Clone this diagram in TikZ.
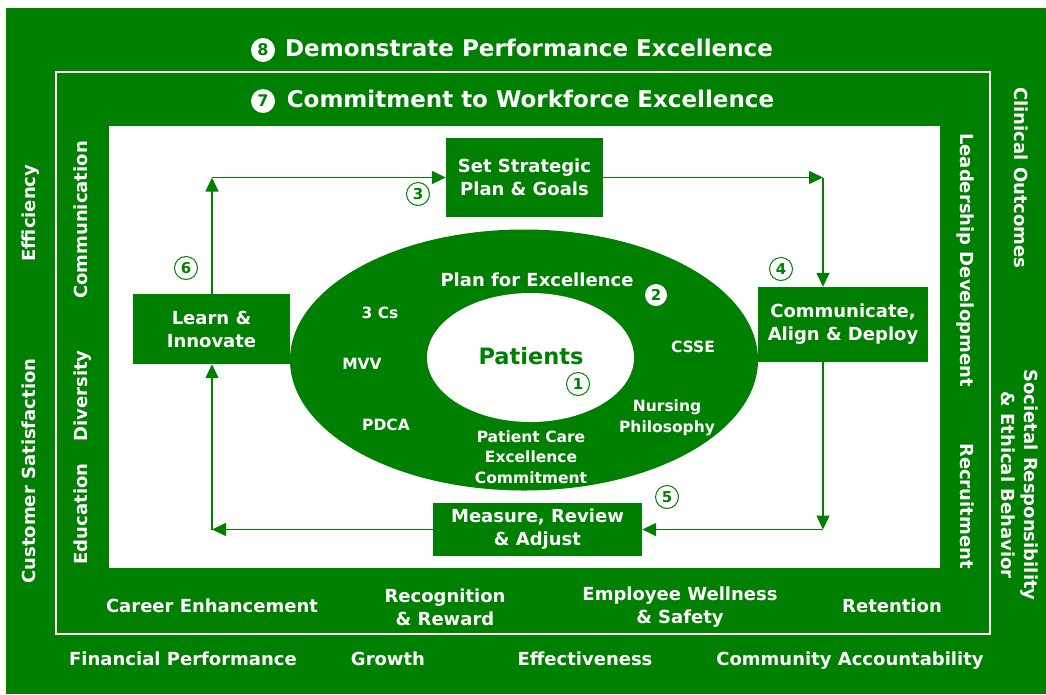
\documentclass[tikz,border=0pt]{standalone}
\usepackage{fontspec}
\setmainfont{DejaVu Sans}
\usetikzlibrary{shapes.geometric,arrows.meta}
\definecolor{pgreen}{RGB}{0,128,0}
\begin{document}
\begin{tikzpicture}[x=1pt,y=-1pt,
  lbl/.style={text=white, font=\bfseries\fontsize{18}{23}\selectfont, inner sep=0, align=center},
  one/.style={text height=13.5pt, text depth=3.5pt},
  ttl/.style={text=white, font=\bfseries\fontsize{23}{28}\selectfont, inner sep=0, text height=17pt, text depth=4.5pt},
  sml/.style={text=white, font=\bfseries\fontsize{15.5}{20.5}\selectfont, inner sep=0, align=center},
  box/.style={fill=pgreen, text=white, font=\bfseries\fontsize{18}{23}\selectfont, inner sep=0, align=center},
  numo/.style={circle, draw=pgreen, line width=1pt, fill=white, text=pgreen, font=\bfseries\fontsize{15}{15}\selectfont, minimum size=23pt, inner sep=0},
  numf/.style={circle, fill=white, text=pgreen, font=\bfseries\fontsize{16}{16}\selectfont, minimum size=24pt, inner sep=0},
  arr/.style={draw=pgreen, line width=1.5pt, -{Triangle[length=14pt,width=13pt]}}
]
\useasboundingbox (0,0) rectangle (1046,694);
\fill[white] (0,0) rectangle (1046,694);
\fill[pgreen] (6,8) rectangle (1046,694);
\draw[white, line width=1.5pt] (56,72) rectangle (990,634);
\fill[white] (109,126) rectangle (940,568);

% titles
\node[numf] (n8) at (263,50) {8};
\node[ttl] (t8) at (529,50) {Demonstrate Performance Excellence};
\node[numf] (n7) at (263,101) {7};
\node[ttl] (t7) at (530.5,101) {Commitment to Workforce Excellence};

% left outer / inner
\node[lbl, one, rotate=90] (eff) at (30,213) {Efficiency};
\node[lbl, one, rotate=90] (cus) at (30,471) {Customer Satisfaction};
\node[lbl, one, rotate=90] (com) at (82,220) {Communication};
\node[lbl, one, rotate=90] (div) at (82,396) {Diversity};
\node[lbl, one, rotate=90] (edu) at (82,514) {Education};

% right inner / outer
\node[lbl, one, rotate=-90] (lea) at (965,260) {Leadership Development};
\node[lbl, one, rotate=-90] (rec) at (965,506) {Recruitment};
\node[lbl, one, rotate=-90] (cli) at (1019,178) {Clinical Outcomes};
\node[lbl, rotate=-90] (soc) at (1020,485) {Societal Responsibility\\\& Ethical Behavior};

% bottom inner
\node[lbl, one] (car) at (212,607) {Career Enhancement};
\node[lbl] (rew) at (445,607) {Recognition\\\& Reward};
\node[lbl] (wel) at (680,607) {Employee Wellness\\\& Safety};
\node[lbl, one] (ret) at (892,607) {Retention};

% bottom outer
\node[lbl, one] (fin) at (183,660) {Financial Performance};
\node[lbl, one] (gro) at (388,660) {Growth};
\node[lbl, one] (efe) at (585,660) {Effectiveness};
\node[lbl, one] (cac) at (850,660) {Community Accountability};

% ellipses
\node[ellipse, fill=pgreen, minimum width=468pt, minimum height=261pt, inner sep=0] (oute) at (524,360) {};
\node[ellipse, fill=white, minimum width=207pt, minimum height=129pt, inner sep=0] (inne) at (530.5,357.5) {};

\node[lbl, one] (pfe) at (537,281) {Plan for Excellence};
\node[numf, minimum size=22pt, font=\bfseries\fontsize{15}{15}\selectfont] (n2) at (656,295) {2};
\node[sml] (cs) at (380,313) {3 Cs};
\node[sml] (mvv) at (362,364) {MVV};
\node[sml] (pdca) at (386,425) {PDCA};
\node[sml] (csse) at (693,347) {CSSE};
\node[sml] (nur) at (667,418) {Nursing\\Philosophy};
\node[sml] (pce) at (531,457) {Patient Care\\Excellence\\Commitment};
\node[text=pgreen, font=\bfseries\fontsize{22.5}{27}\selectfont, inner sep=0] (pat) at (531,356) {Patients};
\node[numo] (n1) at (578,384) {1};

% boxes
\node[box, minimum width=157pt, minimum height=79pt] (set) at (524.5,177.5) {Set Strategic\\Plan \& Goals};
\node[box, minimum width=157pt, minimum height=70pt] (learn) at (211.5,329) {Learn \&\\Innovate};
\node[box, minimum width=170pt, minimum height=75pt] (comm) at (843,324.5) {Communicate,\\Align \& Deploy};
\node[box, minimum width=209pt, minimum height=53pt] (meas) at (537.5,529.5) {Measure, Review\\\& Adjust};

% corners
\coordinate (c1) at (212,177.5);
\coordinate (c2) at (823,177.5);
\coordinate (c3) at (823,529.5);
\coordinate (c4) at (212,529.5);

% connectors
\draw[arr] (learn.north -| c1) -- (c1);
\draw[arr] (c1) -- (set.west);
\draw[arr] (set.east) -- (c2);
\draw[arr] (c2) -- (c2 |- comm.north);
\draw[arr] (c2 |- comm.south) -- (c3);
\draw[arr] (c3) -- (meas.east);
\draw[arr] (meas.west) -- (c4);
\draw[arr] (c4) -- (c4 |- learn.south);

% step numbers
\node[numo] (n3) at (418,194) {3};
\node[numo] (n4) at (781,269) {4};
\node[numo] (n5) at (667,497) {5};
\node[numo] (n6) at (186,268) {6};
\end{tikzpicture}
\end{document}
